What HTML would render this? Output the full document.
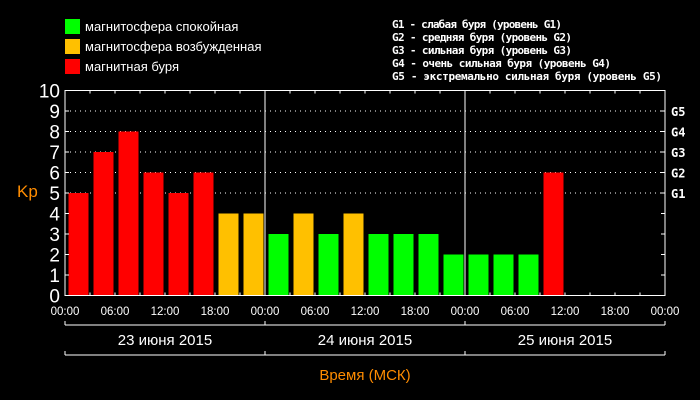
<!DOCTYPE html>
<html><head><meta charset="utf-8"><style>
html,body{margin:0;padding:0;background:#000;}
svg{display:block;font-family:"Liberation Sans","DejaVu Sans",sans-serif;}
</style></head><body>
<svg id="chart" width="700" height="400" viewBox="0 0 700 400">
<rect x="0" y="0" width="700" height="400" fill="#000"/>
<g>
 <rect x="65" y="19" width="15" height="15" fill="#00ff00"/>
 <text x="85" y="31" fill="#fff" font-size="13">магнитосфера спокойная</text>
 <rect x="65" y="39" width="15" height="15" fill="#ffc000"/>
 <text x="85" y="51" fill="#fff" font-size="13">магнитосфера возбужденная</text>
 <rect x="65" y="59" width="15" height="15" fill="#ff0000"/>
 <text x="85" y="71" fill="#fff" font-size="13">магнитная буря</text>
</g>
<g fill="#fff" font-size="11" font-weight="bold" font-family="'DejaVu Sans Mono','Liberation Mono',monospace">
 <text x="392" y="28" textLength="170">G1 - слабая буря (уровень G1)</text>
 <text x="392" y="41" textLength="180">G2 - средняя буря (уровень G2)</text>
 <text x="392" y="54" textLength="180">G3 - сильная буря (уровень G3)</text>
 <text x="392" y="67" textLength="219">G4 - очень сильная буря (уровень G4)</text>
 <text x="392" y="80" textLength="270">G5 - экстремально сильная буря (уровень G5)</text>
</g>
<text x="17" y="197" fill="#ff8c00" font-size="17">Kp</text>
<g id="grid"></g>
<g id="bars"></g>
<g id="axes"></g>
<text x="365" y="380" fill="#ff8c00" font-size="15" text-anchor="middle">Время (МСК)</text>
</svg>
<script>
const kpValues = [5,7,8,6,5,6,4,4, 3,4,3,4,3,3,3,2, 2,2,2,6];
const yTicks = [0,1,2,3,4,5,6,7,8,9,10];
const gLevels = ["G1","G2","G3","G4","G5"];
const gKp = [5,6,7,8,9];
const xTickLabels = ["00:00","06:00","12:00","18:00","00:00","06:00","12:00","18:00","00:00","06:00","12:00","18:00","00:00"];
const dayLabels = ["23 июня 2015","24 июня 2015","25 июня 2015"];
const totalSlots = 24;

const NS="http://www.w3.org/2000/svg";
const L=65,R=665,T=90.5,B=295.5;
const slotW=(R-L)/totalSlots;
const yS=v=>B-(B-T)*v/10;
const xS=i=>L+i*slotW;
function mk(tag,attrs,parent){const e=document.createElementNS(NS,tag);for(const k in attrs)e.setAttribute(k,attrs[k]);parent.appendChild(e);return e;}
const grid=document.getElementById('grid'),bars=document.getElementById('bars'),axes=document.getElementById('axes');
gKp.forEach((v,i)=>{
 const ln=mk('line',{x1:L,x2:R,y1:yS(v),y2:yS(v),stroke:'#fff','stroke-width':1,'stroke-dasharray':'1,4'},grid);
 
 
 const t=mk('text',{x:R+6,y:yS(v)+5,fill:'#fff','font-size':12,'font-weight':'bold','font-family':"'DejaVu Sans Mono',monospace"},axes);
 t.textContent=gLevels[i];
 
 
});
kpValues.forEach((v,i)=>{
 const c=v>=5?'#ff0000':(v===4?'#ffc000':'#00ff00');
 const r=mk('rect',{x:xS(i)+3.5,y:yS(v),width:20,height:B-yS(v),fill:c},bars);
 
 
});
// frame
const fr=mk('rect',{x:L,y:T,width:R-L,height:B-T,fill:'none',stroke:'#fff','stroke-width':1},axes);


[8,16].forEach(s=>{
 const d=mk('line',{x1:xS(s),x2:xS(s),y1:T,y2:B,stroke:'#fff','stroke-width':1},axes);
 
 
});
for(let i=1;i<totalSlots;i++){
 mk('line',{x1:xS(i),x2:xS(i),y1:T,y2:T+3,stroke:'#fff'},axes);
 mk('line',{x1:xS(i),x2:xS(i),y1:B,y2:B-3,stroke:'#fff'},axes);
}
yTicks.forEach(v=>{
 const t=mk('text',{x:60,y:yS(v)+7,fill:'#fff','font-size':19,'text-anchor':'end'},axes);
 t.textContent=v;
 
 
 if(v>0&&v<10){mk('line',{x1:L,x2:L+4,y1:yS(v),y2:yS(v),stroke:'#fff'},axes);mk('line',{x1:R-4,x2:R,y1:yS(v),y2:yS(v),stroke:'#fff'},axes);}
});
xTickLabels.forEach((lab,i)=>{
 const t=mk('text',{x:xS(i*2),y:315,fill:'#fff','font-size':11.5,'text-anchor':'middle'},axes);
 t.textContent=lab;
 
 
});
mk('line',{x1:L,x2:R,y1:325,y2:325,stroke:'#fff'},axes);
mk('line',{x1:L,x2:R,y1:355,y2:355,stroke:'#fff'},axes);
for(let d=0;d<=dayLabels.length;d++){
 const x=xS(d*8);
 mk('line',{x1:x,x2:x,y1:321,y2:325,stroke:'#fff'},axes);
 mk('line',{x1:x,x2:x,y1:351,y2:355,stroke:'#fff'},axes);
}
dayLabels.forEach((lab,d)=>{
 const t=mk('text',{x:xS(d*8+4),y:345,fill:'#fff','font-size':15,'text-anchor':'middle'},axes);
 t.textContent=lab;
 
 
});
</script>
</body></html>
